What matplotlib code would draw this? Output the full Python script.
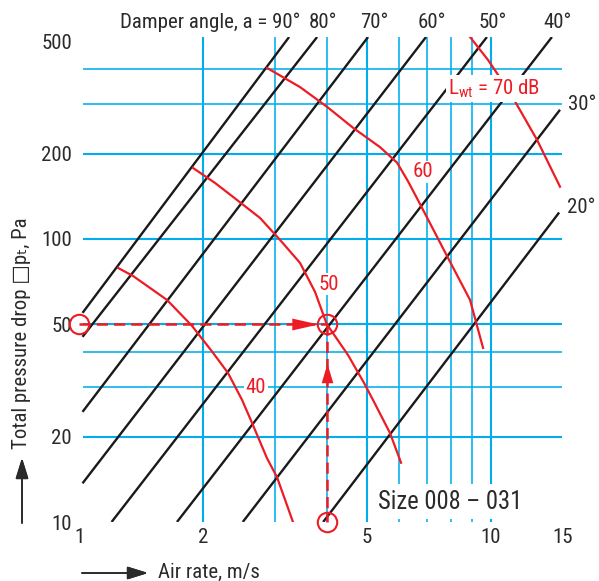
import numpy as np
import matplotlib
matplotlib.use('Agg')
import matplotlib.pyplot as plt
from matplotlib import font_manager as fm
from matplotlib.ticker import NullLocator, NullFormatter

# the chart uses a condensed sans; take the narrowest one that is installed
names = {f.name for f in fm.fontManager.ttflist}
family = 'Roboto'
for cand in ['Liberation Sans Narrow', 'Roboto Condensed', 'Noto Sans Condensed',
             'Open Sans Condensed', 'DejaVu Sans Condensed', 'Arial Narrow']:
    if cand in names:
        family = cand
        break
plt.rcParams['font.family'] = [family, 'DejaVu Sans']
plt.rcParams['mathtext.fontset'] = 'custom'
plt.rcParams['mathtext.rm'] = family

# damper angle lines, straight in log-log between a lower and an upper end
angles = ['90°', '80°', '70°', '60°', '50°', '40°', '30°', '20°']
v_lo = [1.02, 1.02, 1.02, 1.02, 1.20, 1.73, 2.50, 3.92]
p_lo = [54.8, 45.1, 24.5, 13.7, 10.0, 10.0, 10.0, 10.0]
v_hi = [3.24, 3.79, 5.04, 6.97, 9.80, 14.1, 14.75, 14.68]
p_hi = [517, 517, 517, 517, 517, 517, 286, 124]

# sound power level curves L_wt
v40 = [1.244, 1.353, 1.636, 1.882, 2.117, 2.302, 2.490, 2.633, 2.863, 3.028, 3.311]
p40 = [79.0, 74.0, 60.9, 49.3, 39.6, 33.6, 27.0, 22.4, 16.8, 14.4, 10.0]
v50 = [1.892, 2.141, 2.421, 2.754, 3.08, 3.444, 3.746, 4.0, 4.505, 4.927, 5.18, 5.70, 6.06]
p50 = [178.2, 157.7, 137.3, 118.6, 99.2, 82.3, 65.0, 50.0, 38.9, 31.0, 27.0, 20.6, 16.2]
v60 = [2.863, 3.444, 4.006, 4.634, 5.389, 5.928, 6.30, 6.666, 7.883, 8.916, 9.59]
p60 = [402, 344, 293, 247, 211, 186, 160, 137, 85.7, 60.9, 41.2]
v70 = [8.916, 9.86, 10.43, 11.34, 12.97, 14.75]
p70 = [517, 429, 380, 315, 224, 153]

# worked example: 50 Pa at 4 m/s
ex_v = [1, 4, 4]
ex_p = [50, 50, 10]

x_grid = [2, 3, 4, 5, 6, 7, 8, 9, 10]
y_grid = [20, 30, 40, 50, 100, 200, 300, 400]
x_ticks = [1, 2, 5, 10, 15]
y_ticks = [10, 20, 50, 100, 200, 500]

blue = '#00aeef'
red = '#ed1c24'
black = '#1a1a1a'
txt = '#2a2a2a'

fig = plt.figure(figsize=(5.99, 5.81), dpi=100)
renderer = fig.canvas.get_renderer()


def fit_size(s, width_px, base):
    t = fig.text(0, 0, s, fontsize=base)
    w = t.get_window_extent(renderer=renderer).width
    t.remove()
    return min(base, base * width_px / w)


ylabel = 'Total pressure drop □pₜ, Pa'
fs = fit_size('Damper angle, a = 90°', 184, 15)
fs_big = fit_size('Size 008 – 031', 144, 20)
fs_ylab = fit_size(ylabel, 232, 15)

ax = fig.add_axes([79 / 599, 59 / 581, 484 / 599, 485 / 581])
ax.set_xscale('log')
ax.set_yscale('log')
ax.set_xlim(1, 15)
ax.set_ylim(10, 517)
for s in ax.spines.values():
    s.set_visible(False)

for x in x_grid:
    major = x in (2, 5, 10)
    ax.vlines(x, 10, 517, color=blue, lw=1.5 if major else 1.15, zorder=1)
for y in y_grid:
    major = y in (20, 50, 100, 200)
    ax.hlines(y, 1.022, 14.95, color=blue, lw=1.5 if major else 1.15, zorder=1)

for i in range(len(angles)):
    ax.plot([v_lo[i], v_hi[i]], [p_lo[i], p_hi[i]], color=black, lw=1.7,
            solid_capstyle='butt', zorder=2)
    if i == 0:
        ax.annotate('Damper angle, a = ' + angles[i], (v_hi[i], p_hi[i]), xytext=(11, 15),
                    textcoords='offset pixels', ha='right', va='center', fontsize=fs,
                    color=txt, annotation_clip=False)
    elif i < 6:
        ax.annotate(angles[i], (v_hi[i], p_hi[i]), xytext=(6, 15),
                    textcoords='offset pixels', ha='center', va='center', fontsize=fs,
                    color=txt, annotation_clip=False)
    else:
        ax.annotate(angles[i], (v_hi[i], p_hi[i]), xytext=(8, 5),
                    textcoords='offset pixels', ha='left', va='center', fontsize=fs,
                    color=txt, annotation_clip=False)

for vv, pp in [(v40, p40), (v50, p50), (v60, p60), (v70, p70)]:
    ax.plot(vv, pp, color=red, lw=1.6, zorder=3, solid_joinstyle='round')

box = dict(facecolor='white', edgecolor='none', pad=1.0)
ax.text(2.69, 29.8, '40', color=red, fontsize=fs, ha='center', va='center', bbox=box, zorder=6)
ax.text(4.05, 69.3, '50', color=red, fontsize=fs, ha='center', va='center', bbox=box, zorder=6)
ax.text(6.85, 172.5, '60', color=red, fontsize=fs, ha='center', va='center', bbox=box, zorder=6)
ax.text(10.2, 340, r'L$_\mathrm{wt}$ = 70 dB', color=red, fontsize=fs, ha='center',
        va='center', bbox=dict(facecolor='white', edgecolor='none', pad=1.5), zorder=6)
ax.text(7.97, 11.8, 'Size 008 – 031', color=txt, fontsize=fs_big, ha='center', va='center',
        bbox=dict(facecolor='white', edgecolor='none', pad=4), zorder=6)

# example path
dash = (0, (4.5, 2.4))
ax.plot(ex_v[:2], ex_p[:2], color=red, lw=1.8, ls=dash, zorder=4, clip_on=False)
ax.plot(ex_v[1:], ex_p[1:], color=red, lw=1.8, ls=dash, zorder=4, clip_on=False)
ax.plot(ex_v, ex_p, 'o', ms=14, mfc='none', mec=red, mew=1.5, zorder=5, clip_on=False)
right_tri = [(-1, -0.45), (1, 0), (-1, 0.45), (-1, -0.45)]
up_tri = [(-0.6, -1), (0, 1), (0.6, -1), (-0.6, -1)]
ax.plot([3.54], [50], marker=right_tri, ms=19, color=red, mec=red, mew=0, zorder=5)
ax.plot([4], [33.6], marker=up_tri, ms=14, color=red, mec=red, mew=0, zorder=5)

ax.set_xticks(x_ticks)
ax.set_xticklabels([str(t) for t in x_ticks])
ax.set_yticks(y_ticks)
ax.set_yticklabels([str(t) for t in y_ticks])
ax.xaxis.set_minor_locator(NullLocator())
ax.yaxis.set_minor_locator(NullLocator())
ax.xaxis.set_minor_formatter(NullFormatter())
ax.yaxis.set_minor_formatter(NullFormatter())
ax.tick_params(length=0, labelsize=fs, labelcolor=txt)
ax.tick_params(axis='x', pad=4)
ax.tick_params(axis='y', pad=5)

fig.text(22 / 599, 1 - 333 / 581, ylabel, rotation=90,
         ha='center', va='center', fontsize=fs_ylab, color=txt)
fig.text(158 / 599, 1 - 572 / 581, 'Air rate, m/s', ha='left', va='center', fontsize=fs, color=txt)
arrow = dict(arrowstyle='-|>,head_length=0.9,head_width=0.28', color=txt, lw=1.2,
             shrinkA=0, shrinkB=0, mutation_scale=14)
fig.add_artist(plt.annotate('', xy=(22, 581 - 458), xytext=(22, 581 - 523),
                            xycoords='figure pixels', arrowprops=arrow))
fig.add_artist(plt.annotate('', xy=(148, 581 - 573), xytext=(82, 581 - 573),
                            xycoords='figure pixels', arrowprops=arrow))

fig.savefig('out.png', dpi=100)
